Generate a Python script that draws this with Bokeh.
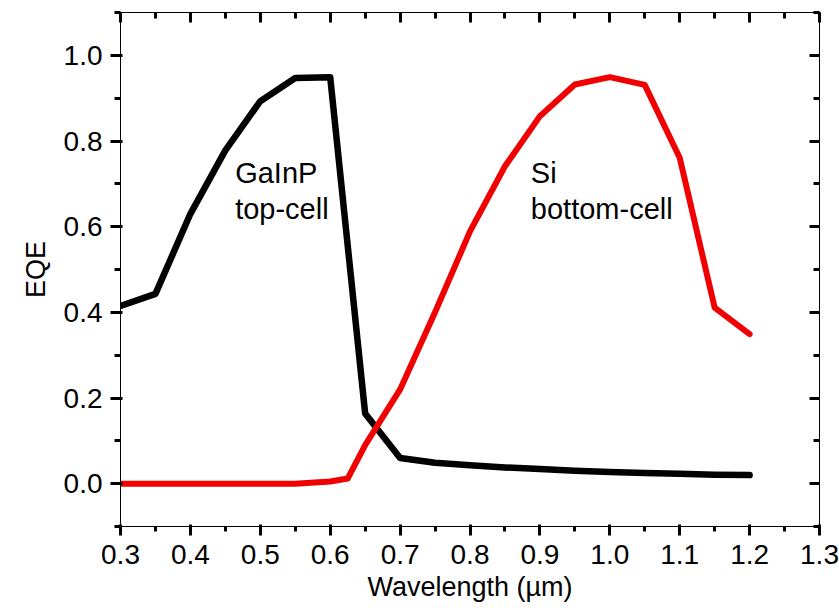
from bokeh.plotting import figure
from bokeh.models import (LinearAxis, SingleIntervalTicker, PrintfTickFormatter,
                          CustomJSTickFormatter, Range1d, Label, Title)
from bokeh.embed import file_html
from bokeh.resources import INLINE

# Data
wavelength_top = [0.30, 0.35, 0.40, 0.45, 0.50, 0.55, 0.60, 0.65, 0.70, 0.75,
                  0.80, 0.85, 0.90, 0.95, 1.00, 1.05, 1.10, 1.15, 1.20]
eqe_top = [0.415, 0.443, 0.630, 0.778, 0.893, 0.947, 0.949, 0.164, 0.060, 0.049,
           0.043, 0.038, 0.034, 0.030, 0.027, 0.025, 0.023, 0.021, 0.020]

wavelength_bottom = [0.30, 0.35, 0.40, 0.45, 0.50, 0.55, 0.60, 0.625, 0.65, 0.70,
                     0.75, 0.80, 0.85, 0.90, 0.95, 1.00, 1.05, 1.10, 1.15, 1.20]
eqe_bottom = [0.0, 0.0, 0.0, 0.0, 0.0, 0.0, 0.005, 0.012, 0.090, 0.220,
              0.400, 0.589, 0.741, 0.858, 0.932, 0.949, 0.931, 0.761, 0.411, 0.349]

x_label = "Wavelength (µm)"
y_label = "EQE"
top_name = ["GaInP", "top-cell"]
bottom_name = ["Si", "bottom-cell"]

FONT = "Liberation Sans"

p = figure(width=839, height=615, output_backend="svg", toolbar_location=None,
           x_range=Range1d(0.3, 1.3), y_range=Range1d(-0.1, 1.1),
           min_border_left=120, min_border_right=20, min_border_top=12,
           min_border_bottom=89)
p.grid.visible = False
p.outline_line_color = "black"

def ticks(ax, outward=True):
    ax.major_tick_line_color = "#000000"
    ax.major_tick_line_width = 3
    ax.minor_tick_line_color = "#000000"
    ax.minor_tick_line_width = 3
    if outward:
        ax.major_tick_out = 10
        ax.major_tick_in = 2
        ax.minor_tick_out = 6
        ax.minor_tick_in = 0
    else:
        ax.major_tick_out = 0
        ax.major_tick_in = 10
        ax.minor_tick_out = 0
        ax.minor_tick_in = 6

xb = p.xaxis[0]
xb.ticker = SingleIntervalTicker(interval=0.1, num_minor_ticks=2)
xb.formatter = PrintfTickFormatter(format="%.1f")
ticks(xb)
xb.major_tick_out = 9
xb.minor_tick_out = 5
xb.major_label_text_font = FONT
xb.major_label_text_font_size = "28px"
xb.major_label_text_color = "black"
xb.major_label_standoff = 9

yl = p.yaxis[0]
yl.ticker = SingleIntervalTicker(interval=0.2, num_minor_ticks=2)
yl.formatter = PrintfTickFormatter(format="%.1f")
ticks(yl)
yl.major_label_text_font = FONT
yl.major_label_text_font_size = "28px"
yl.major_label_text_color = "black"
yl.major_label_standoff = 8

xt = LinearAxis(ticker=SingleIntervalTicker(interval=0.1, num_minor_ticks=2),
                formatter=CustomJSTickFormatter(code="return ''"))
ticks(xt, outward=False)
xt.major_label_standoff = 0
xt.major_label_text_font_size = "0px"
p.add_layout(xt, "above")

yr = LinearAxis(ticker=SingleIntervalTicker(interval=0.2, num_minor_ticks=2),
                formatter=CustomJSTickFormatter(code="return ''"))
ticks(yr, outward=False)
yr.major_label_standoff = 0
yr.major_label_text_font_size = "0px"
p.add_layout(yr, "right")

# axis titles as side-panel titles
p.add_layout(Title(text=x_label, align="center", text_font=FONT,
                   text_font_size="27px", text_font_style="normal",
                   text_color="black", standoff=6), "below")
p.add_layout(Title(text=y_label, align="center", text_font=FONT,
                   text_font_size="27px", text_font_style="normal",
                   text_color="black", standoff=20), "left")

p.line(wavelength_top, eqe_top, line_color="black", line_width=6.5,
       line_join="round", line_cap="round")
p.line(wavelength_bottom, eqe_bottom, line_color="#f00000", line_width=6,
       line_join="round", line_cap="round")

for txt, yv in zip(top_name, [0.725, 0.641]):
    p.add_layout(Label(x=0.464, y=yv, text=txt, text_font=FONT,
                       text_font_size="29px", text_color="black",
                       text_baseline="alphabetic", text_align="left"))
for txt, yv in zip(bottom_name, [0.725, 0.641]):
    p.add_layout(Label(x=0.887, y=yv, text=txt, text_font=FONT,
                       text_font_size="29px", text_color="black",
                       text_baseline="alphabetic", text_align="left"))

open("out.html", "w").write(file_html(p, INLINE))
